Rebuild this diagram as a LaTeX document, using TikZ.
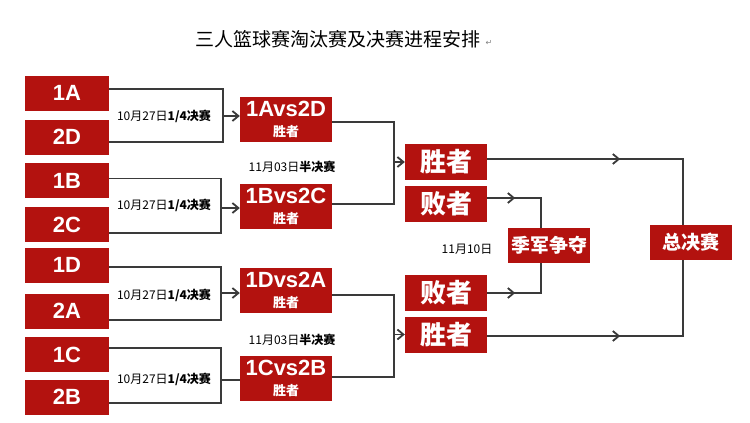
\documentclass[tikz,border=0pt]{standalone}
\usepackage{fontspec}
\usepackage{xcolor}
\setmainfont{Liberation Sans}
\newfontfamily\cjk{Noto Sans CJK SC}
\newfontfamily\symfont{DejaVu Sans}
\usetikzlibrary{arrows.meta,decorations.markings}
\definecolor{matchred}{HTML}{B3120F}
\definecolor{linegray}{HTML}{3A3A3A}

\begin{document}
\begin{tikzpicture}[x=1pt, y=-1pt,
    team/.style={fill=matchred, text=white, inner sep=0pt,
                 minimum width=84pt, minimum height=35pt,
                 font=\bfseries\fontsize{22}{22}\selectfont},
    pair/.style={fill=matchred, text=white, inner sep=0pt, align=center,
                 minimum width=92pt, minimum height=45pt,
                 font=\bfseries\fontsize{22}{20}\selectfont},
    result/.style={fill=matchred, text=white, inner sep=0pt,
                   minimum width=82pt, minimum height=36pt,
                   font=\cjk\bfseries\fontsize{26}{26}\selectfont},
    stage/.style={fill=matchred, text=white, inner sep=0pt,
                  minimum width=82pt, minimum height=35pt,
                  font=\cjk\bfseries\fontsize{19}{19}\selectfont},
    datelbl/.style={font=\cjk\fontsize{12}{12}\selectfont},
    link/.style={draw, color=linegray, line width=1.8pt},
    tip/.style={-{Straight Barb[length=6pt,width=10pt]}},
    midtip/.style={postaction={decorate, decoration={markings,
        mark=at position #1 with {\arrow{Straight Barb[length=6pt,width=10pt]}}}}}]
  \useasboundingbox (0,0) rectangle (750,423);

  % title
  \node (title) at (337.5,39) {\cjk\fontsize{19}{19}\selectfont 三人篮球赛淘汰赛及决赛进程安排};
  \node[text=gray, font=\symfont\fontsize{8}{8}\selectfont] (retmark) at (489,43) {↵};

  % teams
  \node[team] (t1a) at (67,93)    {1A};
  \node[team] (t2d) at (67,137)   {2D};
  \node[team] (t1b) at (67,180.5) {1B};
  \node[team] (t2c) at (67,224.5) {2C};
  \node[team] (t1d) at (67,265)   {1D};
  \node[team] (t2a) at (67,311)   {2A};
  \node[team] (t1c) at (67,354.5) {1C};
  \node[team] (t2b) at (67,397)   {2B};

  % quarter final winners
  \node[pair] (s1) at (286,119.5) {1Avs2D\\{\cjk\fontsize{13}{13}\selectfont 胜者}};
  \node[pair] (s2) at (286,206.5) {1Bvs2C\\{\cjk\fontsize{13}{13}\selectfont 胜者}};
  \node[pair] (s3) at (286,290.5) {1Dvs2A\\{\cjk\fontsize{13}{13}\selectfont 胜者}};
  \node[pair] (s4) at (286,378.5) {1Cvs2B\\{\cjk\fontsize{13}{13}\selectfont 胜者}};

  % semi final results
  \node[result] (w1) at (446,162)   {胜者};
  \node[result] (l1) at (446,204)   {败者};
  \node[result] (l2) at (446,293)   {败者};
  \node[result] (w2) at (446,334.5) {胜者};

  \node[stage] (third) at (549,245.5) {季军争夺};
  \node[stage] (final) at (691,242.5) {总决赛};

  % dates
  \node[datelbl] (d1) at (164,116) {10月27日\textbf{1/4决赛}};
  \node[datelbl] (d2) at (164,205) {10月27日\textbf{1/4决赛}};
  \node[datelbl] (d3) at (164,295) {10月27日\textbf{1/4决赛}};
  \node[datelbl] (d4) at (164,379) {10月27日\textbf{1/4决赛}};
  \node[datelbl] (d5) at (292,167) {11月03日\textbf{半决赛}};
  \node[datelbl] (d6) at (292,340) {11月03日\textbf{半决赛}};
  \node[datelbl] (d7) at (467,249) {11月10日};

  % quarter finals
  \coordinate (j1) at (223,116);
  \coordinate (j2) at (221,208);
  \coordinate (j3) at (221,293);
  \coordinate (j4) at (221,380);
  \draw[link] ([yshift=4]t1a.east) -| (j1) |- ([yshift=-5]t2d.east);
  \draw[link] ([yshift=2]t1b.east) -| (j2) |- ([yshift=-8.5]t2c.east);
  \draw[link] ([yshift=-2]t1d.east) -| (j3) |- ([yshift=-9]t2a.east);
  \draw[link] ([yshift=6.5]t1c.east) -| (j4) |- ([yshift=-6]t2b.east);
  \draw[link,tip] (j1) -- (j1 -| s1.west);
  \draw[link,tip] (j2) -- (j2 -| s2.west);
  \draw[link,tip] (j3) -- (j3 -| s3.west);
  \draw[link] (j4) -- (j4 -| s4.west);

  % semi finals
  \coordinate (k1) at (394,162);
  \coordinate (k2) at (394,334.5);
  \draw[link] ([yshift=-2.5]s1.east) -| (k1) |- ([yshift=2.5]s2.east);
  \draw[link] ([yshift=-4.5]s3.east) -| (k2) |- ([yshift=1.5]s4.east);
  \draw[link,tip] (k1) -- (w1.west);
  \draw[link,tip] (k2) -- (w2.west);

  % final and third place
  \draw[link,midtip=133pt] ([yshift=3]w1.east) -| ([xshift=-8]final.north);
  \draw[link,midtip=133pt] ([yshift=-1.5]w2.east) -| ([xshift=-8]final.south);
  \draw[link,midtip=28pt] ([yshift=6]l1.east) -| ([xshift=-8]third.north);
  \draw[link,midtip=28pt] (l2.east) -| ([xshift=-8]third.south);
\end{tikzpicture}
\end{document}
